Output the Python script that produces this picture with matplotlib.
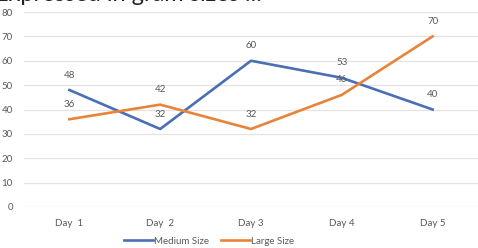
import numpy as np
import matplotlib.pyplot as plt

plt.rcParams['font.family'] = ['Lato', 'DejaVu Sans']

days = ["Day  1", "Day  2", "Day 3", "Day 4", "Day 5"]
medium = [48, 32, 60, 53, 40]
large = [36, 42, 32, 46, 70]

blue = '#4A6FB5'
orange = '#E8843A'
grey = '#595959'

fig = plt.figure(figsize=(4.78, 2.48), dpi=100)
ax = fig.add_axes([24/478, 1-207/248, 1-24/478, (207-12)/248])

x = np.arange(len(days))
ax.plot(x, medium, color=blue, lw=1.9, label='Medium Size')
ax.plot(x, large, color=orange, lw=1.9, label='Large Size')

for i in range(len(days)):
    ax.annotate(str(medium[i]), (x[i], medium[i]), xytext=(0, 7.5), textcoords='offset points',
                ha='center', va='bottom', fontsize=7, color=grey)
    ax.annotate(str(large[i]), (x[i], large[i]), xytext=(0, 7.5), textcoords='offset points',
                ha='center', va='bottom', fontsize=7, color=grey)

ax.set_xlim(-0.5, 4.5)
ax.set_ylim(0, 80)
ax.set_yticks(range(0, 81, 10))
ax.set_xticks(x)
ax.set_xticklabels(days)
ax.grid(axis='y', color='#e3e3e3', lw=0.9)
ax.set_axisbelow(True)
for s in ax.spines.values():
    s.set_visible(False)
ax.tick_params(length=0, labelsize=7, labelcolor=grey)
ax.tick_params(axis='x', pad=9)
ax.tick_params(axis='y', pad=8)

fig.legend(loc='center', bbox_to_anchor=(209/478, 1-241/248), ncol=2, frameon=False,
           fontsize=7, handlelength=3.0, handletextpad=0.1, columnspacing=1.2,
           labelcolor=grey)

# title cut off at the top of the picture
fig.text(-0.01, 0.995, "Expressed in gram sizes ...", fontsize=17, color='#222222',
         ha='left', va='baseline')

fig.savefig('out.png', dpi=100)
